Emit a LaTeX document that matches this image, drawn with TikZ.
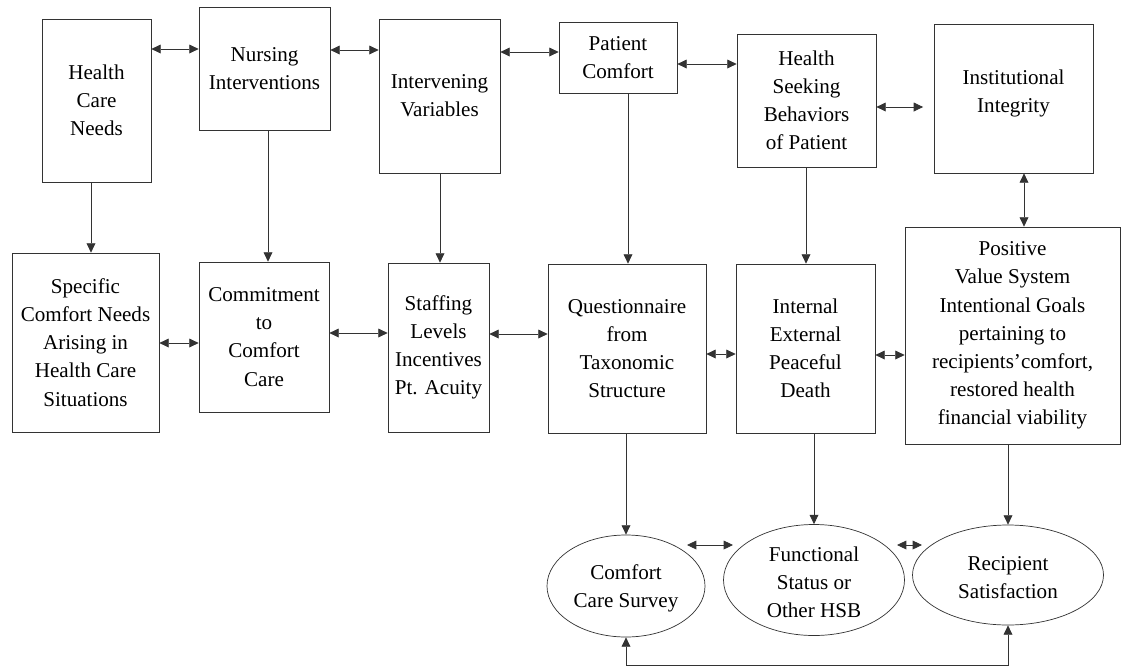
\documentclass[tikz,border=0pt]{standalone}
\usepackage{fontspec}
\setmainfont{Liberation Serif}
\usetikzlibrary{arrows.meta,shapes.geometric}
\begin{document}
\begin{tikzpicture}[x=0.03cm,y=-0.03cm,
  txt/.style={font=\fontsize{18}{24}\selectfont},
  box/.style={draw=black!80, line width=0.6pt, inner sep=1pt, align=center, txt},
  oval/.style={ellipse, draw=black!80, line width=0.6pt, inner sep=0pt},
  lbl/.style={align=center, inner sep=0pt, txt},
  link/.style={draw=black!80, line width=0.7pt},
  one/.style={link, -{Triangle[length=8pt,width=7.5pt]}},
  two/.style={link, {Triangle[length=8pt,width=7.5pt]}-{Triangle[length=8pt,width=7.5pt]}},
]
\useasboundingbox (0,0) rectangle (1126,668);
\fill[white] (0,0) rectangle (1126,668);

% top row
\node[box, minimum width=3.27cm, minimum height=4.89cm] (hcn) at (96.5,100.5) {Health\\Care\\Needs};
\node[box, minimum width=3.93cm, minimum height=3.69cm] (ni) at (264.5,68.5) {Nursing\\Interventions};
\node[box, minimum width=3.63cm, minimum height=4.62cm] (iv) at (439.5,96) {Intervening\\Variables};
\node[box, minimum width=3.54cm, minimum height=2.13cm] (pc) at (618,57.5) {Patient\\Comfort};
\node[box, minimum width=4.17cm, minimum height=3.99cm] (hsb) at (806.5,100.5) {Health\\Seeking\\Behaviors\\of Patient};
\node[box, minimum width=4.77cm, minimum height=4.47cm] (ii) at (1013.5,98.5) {Institutional\\Integrity\\[-12pt]};

% second row
\node[box, minimum width=4.41cm, minimum height=5.37cm] (spec) at (85.5,342.5) {Specific\\Comfort Needs\\Arising in\\Health Care\\Situations};
\node[box, minimum width=3.90cm, minimum height=4.50cm] (comm) at (264,337) {Commitment\\to\\Comfort\\Care};
\node[box, minimum width=3.03cm, minimum height=5.07cm] (staff) at (438.5,347.5) {Staffing\\Levels\\Incentives\\Pt. Acuity};
\node[box, minimum width=4.74cm, minimum height=5.07cm] (quest) at (627,348.5) {Questionnaire\\from\\Taxonomic\\Structure};
\node[box, minimum width=4.17cm, minimum height=5.07cm] (int) at (805.5,348.5) {Internal\\External\\Peaceful\\Death};
\node[box, minimum width=6.45cm, minimum height=6.51cm] (pos) at (1012.5,335.5) {Positive\\Value System\\Intentional Goals\\pertaining to\\recipients'comfort,\\restored health\\financial viability};

% ellipses
\node[oval, minimum width=4.74cm, minimum height=3.06cm] (ccs) at (626,586) {};
\node[lbl] (ccst) at (626,588) {Comfort\\Care Survey};
\node[oval, minimum width=5.43cm, minimum height=3.33cm] (fs) at (814,580) {};
\node[lbl] (fst) at (814,582) {Functional\\Status or\\Other HSB};
\node[oval, minimum width=5.73cm, minimum height=3.00cm] (rs) at (1008,575) {};
\node[lbl] (rst) at (1008,578) {Recipient\\Satisfaction};

% top row horizontal arrows
\draw[two] (hcn.east |- 0,49) -- (ni.west |- 0,49);
\draw[two] (ni.east |- 0,50) -- (iv.west |- 0,50);
\draw[two] (iv.east |- 0,52) -- (pc.west |- 0,52);
\draw[two] (pc.east |- 0,64) -- (hsb.west |- 0,64);
\draw[two, shorten >=9pt] (hsb.east |- 0,107) -- (ii.west |- 0,107);

% top to second row
\draw[one] (hcn.south -| 91,0) -- (spec.north -| 91,0);
\draw[one] (ni.south -| 268,0) -- (comm.north -| 268,0);
\draw[one] (iv.south -| 440,0) -- (staff.north -| 440,0);
\draw[one] (pc.south -| 628,0) -- (quest.north -| 628,0);
\draw[one] (hsb.south -| 806,0) -- (int.north -| 806,0);
\draw[two] (ii.south -| 1024,0) -- (pos.north -| 1024,0);

% second row horizontal arrows
\draw[two] (spec.east |- 0,343) -- (comm.west |- 0,343);
\draw[two] (comm.east |- 0,333) -- (staff.west |- 0,333);
\draw[two] (staff.east |- 0,334) -- (quest.west |- 0,334);
\draw[two] (quest.east |- 0,354) -- (int.west |- 0,354);
\draw[two] (int.east |- 0,355) -- (pos.west |- 0,355);

% second row to ellipses
\draw[one] (quest.south -| 626,0) -- (ccs.north);
\draw[one] (int.south -| 814,0) -- (fs.north);
\draw[one] (pos.south -| 1008,0) -- (rs.north);

% between ellipses
\coordinate (a1) at (687,545);
\coordinate (a2) at (733,545);
\coordinate (b1) at (897,545);
\coordinate (b2) at (922,545);
\draw[two] (a1) -- (a2);
\draw[two] (b1) -- (b2);

% bottom loop
\draw[two] (ccs.south) -- (ccs.south |- 0,665) -- (rs.south |- 0,665) -- (rs.south);
\end{tikzpicture}
\end{document}
